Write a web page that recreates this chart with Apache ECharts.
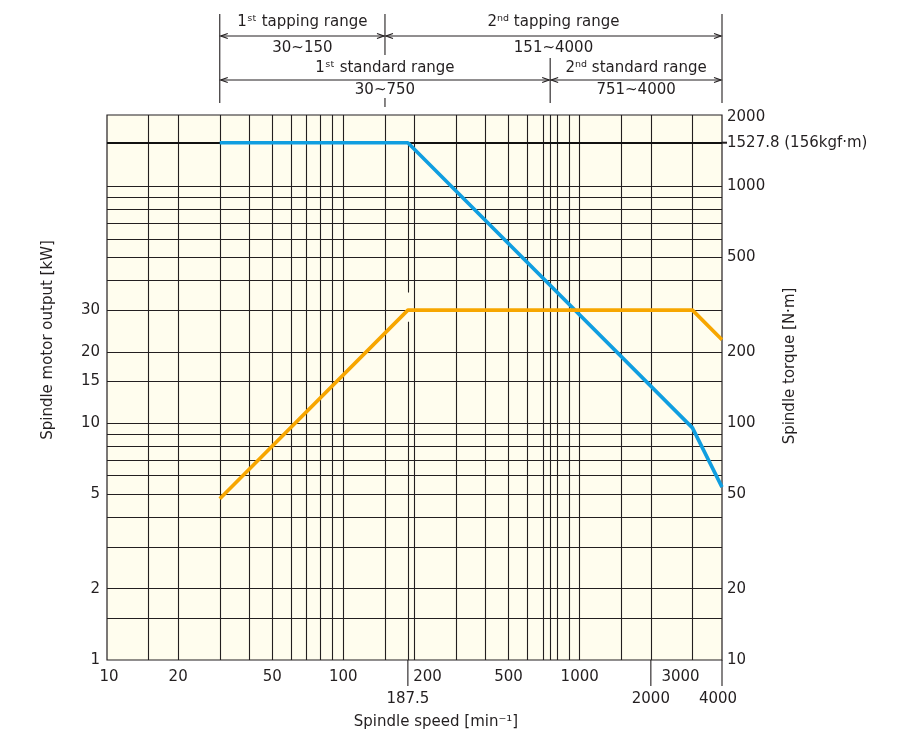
<!DOCTYPE html>
<html><head><meta charset="utf-8">
<script src="https://cdn.jsdelivr.net/npm/echarts@6/dist/echarts.min.js"></script>
<style>html,body{margin:0;padding:0;background:#fff}#c{width:900px;height:753px}</style>
</head><body><div id="c"></div>
<script>
// ---------- data ----------
const speedGrid = [15,20,30,40,50,60,70,80,90,100,150,200,300,400,500,600,700,750,800,900,1000,1500,2000,3000];
const torqueGrid = [15,20,30,40,50,60,70,80,90,100,150,200,300,400,500,600,700,800,900,1000];
const ratedTorque = 1527.8;
const baseSpeed = 187.5;
const baseLineGap = [356, 268];           // torque values where the 187.5 line is interrupted
const torqueSpeed = [30, 187.5, 3000, 4000];
const torqueValues = [1527.8, 1527.8, 95.5, 53.7];
const outputSpeed = [30, 187.5, 3000, 4000];
const outputValues = [4.8, 30, 30, 22.5];
const speedLabelsRow1 = [10,20,50,100,200,500,1000,3000];
const speedLabelsRow2 = [187.5,2000,4000];
const outputLabels = [1,2,5,10,15,20,30];
const torqueLabels = [10,20,50,100,200,500,1000,1527.8,2000];
const torqueLabelText = {1527.8: '1527.8 (156kgf·m)'};
const tappingRanges = [[30,150,'1ˢᵗ tapping range','30~150'],[150,4000,'2ⁿᵈ tapping range','151~4000']];
const standardRanges = [[30,750,'1ˢᵗ standard range','30~750'],[750,4000,'2ⁿᵈ standard range','751~4000']];

// ---------- style ----------
const FONT = 'DejaVu Sans';
const FS = 15;
const TXT = '#231f20';
const GRIDC = '#231f20';
const labelOffsetX = {10: 2, 200: 13, 3000: -12, 4000: -4};

const chart = echarts.init(document.getElementById('c'));

const option = {
  animation: false,
  grid: {left:107, right:178, top:115, bottom:93, show:true, backgroundColor:'#fffdee', borderColor:GRIDC, borderWidth:1.2},
  xAxis: {type:'log', logBase:10, min:10, max:4000, axisLine:{show:false}, axisTick:{show:false}, axisLabel:{show:false}, splitLine:{show:false}},
  yAxis: [
    {type:'log', logBase:10, min:1, max:200, axisLine:{show:false}, axisTick:{show:false}, axisLabel:{show:false}, splitLine:{show:false}},
    {type:'log', logBase:10, min:10, max:2000, position:'right', axisLine:{show:false}, axisTick:{show:false}, axisLabel:{show:false}, splitLine:{show:false}}
  ],
  series: [
    {type:'line', yAxisIndex:1, data:[], z:1, silent:true,
     markLine:{silent:true, symbol:'none', label:{show:false}, animation:false,
       lineStyle:{color:GRIDC, width:1.1, type:'solid'},
       data: speedGrid.map(v => ({xAxis:v}))
         .concat(torqueGrid.map(v => ({yAxis:v})))
         .concat([
           [{coord:[baseSpeed, ratedTorque]},{coord:[baseSpeed, baseLineGap[0]]}],
           [{coord:[baseSpeed, baseLineGap[1]]},{coord:[baseSpeed, 10]}]
         ])}},
    {type:'line', yAxisIndex:1, data:[], z:2, silent:true,
     markLine:{silent:true, symbol:'none', label:{show:false}, animation:false,
       lineStyle:{color:'#111', width:2, type:'solid'},
       data:[{yAxis:ratedTorque}]}},
    {type:'line', name:'torque', yAxisIndex:1, z:5, clip:false, symbol:'none',
     lineStyle:{color:'#109ee0', width:3.6}, data: torqueSpeed.map((s,i)=>[s, torqueValues[i]])},
    {type:'line', name:'output', yAxisIndex:0, z:5, clip:false, symbol:'none',
     lineStyle:{color:'#f7a600', width:3.6}, data: outputSpeed.map((s,i)=>[s, outputValues[i]])}
  ]
};
chart.setOption(option);

// ---------- labels & annotations positioned through the chart's scales ----------
const px = v => chart.convertToPixel({xAxisIndex:0}, v);
const pyP = v => chart.convertToPixel({yAxisIndex:0}, v);
const pyT = v => chart.convertToPixel({yAxisIndex:1}, v);
const yBottom = pyT(10), yTop = pyT(2000);
const xLeft = px(10), xRight = px(4000);
const g = [];
const line = (x1,y1,x2,y2,w) => g.push({type:'line', shape:{x1,y1,x2,y2}, style:{stroke:GRIDC, lineWidth:w||1.1}, silent:true});
const text = (x,y,t,extra,styleExtra) => g.push(Object.assign({type:'text', x, y, silent:true,
  style:Object.assign({text:t, fill:TXT, fontFamily:FONT, fontSize:FS, align:'center', verticalAlign:'middle'}, styleExtra||{})}, extra||{}));

// axis tick labels
speedLabelsRow1.forEach(v => text(px(v) + (labelOffsetX[v]||0), yBottom + 17, String(v)));
speedLabelsRow2.forEach(v => text(px(v) + (labelOffsetX[v]||0), yBottom + 39, String(v)));
outputLabels.forEach(v => text(xLeft - 7, pyP(v), String(v), null, {align:'right'}));
torqueLabels.forEach(v => text(xRight + 5, pyT(v) + (v===2000 ? 2 : 0), torqueLabelText[v] || String(v), null, {align:'left'}));

// long ticks below the speed axis
speedLabelsRow2.forEach(v => line(px(v), yBottom, px(v), yBottom + 26));
// right tick for rated torque
line(xRight, pyT(ratedTorque), xRight+5, pyT(ratedTorque), 2);

// range annotations above the chart
function arrow(xa, xb, y) {
  line(xa+1, y, xb-1, y, 1);
  g.push({type:'polyline', shape:{points:[[xa+8,y-2.5],[xa+1,y],[xa+8,y+2.5]]}, style:{stroke:GRIDC, lineWidth:1.2, fill:null}, silent:true});
  g.push({type:'polyline', shape:{points:[[xb-8,y-2.5],[xb-1,y],[xb-8,y+2.5]]}, style:{stroke:GRIDC, lineWidth:1.2, fill:null}, silent:true});
}
const rowTap = 36, rowStd = 80;
line(px(30), 14, px(30), 103);
line(px(4000), 14, px(4000), 103);
line(px(150), 14, px(150), 55);
line(px(150), 98, px(150), 107);
line(px(750), 58, px(750), 103);
tappingRanges.forEach(r => {
  const a = px(r[0]), b = px(r[1]), c = (a+b)/2;
  arrow(a, b, rowTap);
  text(c, rowTap-14, r[2]);
  text(c, rowTap+12, r[3]);
});
standardRanges.forEach(r => {
  const a = px(r[0]), b = px(r[1]), c = (a+b)/2;
  arrow(a, b, rowStd);
  text(c, rowStd-12, r[2]);
  text(c, rowStd+10, r[3]);
});

// axis names
text(436, 722, 'Spindle speed [min⁻¹]');
text(48, 340, 'Spindle motor output [kW]', {rotation: Math.PI/2});
text(790, 366, 'Spindle torque [N·m]', {rotation: Math.PI/2});

chart.setOption({graphic: g});
</script>
</body></html>
